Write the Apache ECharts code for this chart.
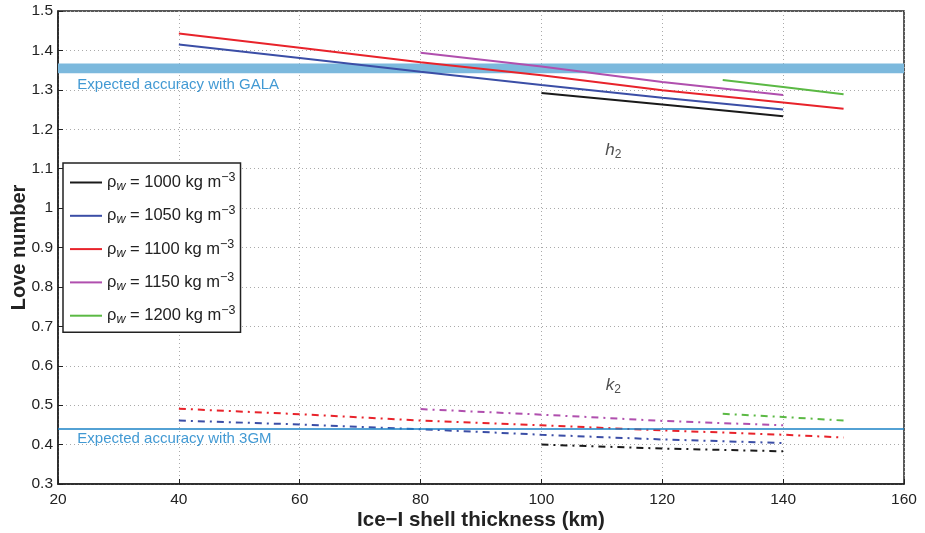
<!DOCTYPE html>
<html><head><meta charset="utf-8">
<script src="https://cdn.jsdelivr.net/npm/echarts@6/dist/echarts.min.js"></script>
<style>html,body{margin:0;padding:0;background:#fff}#c{width:925px;height:533px}</style>
</head><body><div id="c"></div>
<script>
// ---- data ----
const xTicks = [20, 40, 60, 80, 100, 120, 140, 160];
const densities = ["1000", "1050", "1100", "1150", "1200"];
const colors = ["#1a1a1a", "#3b4ea6", "#e8232b", "#b04fae", "#5bb944"];

// h2 (solid lines)
const h2_1000_x = [100, 120, 140];
const h2_1000_y = [1.292, 1.263, 1.233];
const h2_1050_x = [40, 60, 80, 100, 120, 140];
const h2_1050_y = [1.415, 1.381, 1.346, 1.312, 1.280, 1.250];
const h2_1100_x = [40, 60, 80, 100, 120, 140, 150];
const h2_1100_y = [1.443, 1.407, 1.370, 1.337, 1.299, 1.268, 1.252];
const h2_1150_x = [80, 100, 120, 140];
const h2_1150_y = [1.394, 1.359, 1.320, 1.287];
const h2_1200_x = [130, 140, 150];
const h2_1200_y = [1.325, 1.307, 1.289];

// k2 (dash-dot lines)
const k2_1000_x = [100, 120, 140];
const k2_1000_y = [0.400, 0.390, 0.383];
const k2_1050_x = [40, 60, 80, 100, 120, 140];
const k2_1050_y = [0.461, 0.451, 0.439, 0.425, 0.413, 0.404];
const k2_1100_x = [40, 60, 80, 100, 120, 140, 150];
const k2_1100_y = [0.491, 0.477, 0.461, 0.449, 0.436, 0.425, 0.418];
const k2_1150_x = [80, 100, 120, 140];
const k2_1150_y = [0.490, 0.476, 0.460, 0.449];
const k2_1200_x = [130, 140, 150];
const k2_1200_y = [0.478, 0.470, 0.461];

// accuracy references
const galaBand = [1.342, 1.367];
const gmLine = 0.4447;
const galaText = "Expected accuracy with GALA";
const gmText = "Expected accuracy with 3GM";
const galaTextPos = [23.2, 1.312];
const gmTextPos = [23.2, 0.415];
const h2LabelPos = [111.9, 1.147];
const k2LabelPos = [111.9, 0.551];

// ---- build ----
const FONT = "'Liberation Sans',Arial,sans-serif";
const h2X = [h2_1000_x, h2_1050_x, h2_1100_x, h2_1150_x, h2_1200_x];
const h2Y = [h2_1000_y, h2_1050_y, h2_1100_y, h2_1150_y, h2_1200_y];
const k2X = [k2_1000_x, k2_1050_x, k2_1100_x, k2_1150_x, k2_1200_x];
const k2Y = [k2_1000_y, k2_1050_y, k2_1100_y, k2_1150_y, k2_1200_y];
const zip = (xs, ys) => xs.map((x, i) => [x, ys[i]]);
const names = densities.map(d => "ρw = " + d + " kg m−3");

const series = [];
densities.forEach((d, i) => {
  series.push({
    name: names[i], type: "line", symbol: "none", z: 3,
    data: zip(h2X[i], h2Y[i]),
    lineStyle: { color: colors[i], width: 2 }, itemStyle: { color: colors[i] }
  });
});
densities.forEach((d, i) => {
  series.push({
    name: "k2 " + d, type: "line", symbol: "none", z: 3,
    data: zip(k2X[i], k2Y[i]),
    lineStyle: { color: colors[i], width: 2, type: [7, 5, 2, 5] }, itemStyle: { color: colors[i] }
  });
});
// GALA band + 3GM line
series.push({
  name: "ref", type: "line", data: [], symbol: "none", z: 1,
  markArea: { silent: true, itemStyle: { color: "#7cb9dd" }, data: [[{ yAxis: galaBand[0] }, { yAxis: galaBand[1] }]] },
  markLine: { silent: true, symbol: "none", label: { show: false },
    lineStyle: { color: "#1a82c6", width: 1.5, type: "solid" }, data: [{ yAxis: gmLine }] }
});
// texts
series.push({
  name: "texts", type: "scatter", symbolSize: 0, z: 5, silent: true,
  data: [
    { value: galaTextPos, label: { formatter: galaText } },
    { value: gmTextPos, label: { formatter: gmText } }
  ],
  label: { show: true, position: "right", distance: 0, color: "#1180c8", fontSize: 15, fontFamily: FONT }
});
series.push({
  name: "names", type: "scatter", symbolSize: 0, z: 5, silent: true,
  data: [
    { value: h2LabelPos, label: { formatter: "{i|h}{s|2}" } },
    { value: k2LabelPos, label: { formatter: "{i|k}{s|2}" } }
  ],
  label: { show: true, position: "inside", color: "#222",
    rich: { i: { fontStyle: "italic", fontSize: 17, fontFamily: FONT, color: "#222" },
            s: { fontSize: 12, fontFamily: FONT, color: "#222", padding: [10, 0, 0, 0] } } }
});

const chart = echarts.init(document.getElementById("c"), null, { renderer: "canvas" });
chart.setOption({
  animation: false,
  backgroundColor: "#fff",
  grid: { left: 58, right: 21, top: 11, bottom: 49, show: true, borderColor: "#222", borderWidth: 1.5,
    backgroundColor: "transparent", containLabel: false, outerBoundsMode: "none" },
  xAxis: {
    type: "value", min: xTicks[0], max: xTicks[xTicks.length - 1], interval: 20,
    name: "Ice−I shell thickness (km)", nameLocation: "middle", nameGap: 26, nameMoveOverlap: false,
    nameTextStyle: { fontSize: 20.5, fontWeight: "bold", color: "#222", fontFamily: FONT },
    axisLine: { lineStyle: { color: "#222", width: 1.5 } },
    axisTick: { inside: true, length: 5, lineStyle: { color: "#222" } },
    axisLabel: { fontSize: 15.5, color: "#222", fontFamily: FONT, margin: 8 },
    splitLine: { show: true, lineStyle: { color: "#aaa", type: [1, 3], width: 1 } }
  },
  yAxis: {
    type: "value", min: 0.3, max: 1.5, interval: 0.1,
    name: "Love number", nameLocation: "middle", nameGap: 29, nameMoveOverlap: false,
    nameTextStyle: { fontSize: 20, fontWeight: "bold", color: "#222", fontFamily: FONT },
    axisLine: { lineStyle: { color: "#222", width: 1.5 } },
    axisTick: { inside: true, length: 5, lineStyle: { color: "#222" } },
    axisLabel: { fontSize: 15.5, color: "#222", fontFamily: FONT, margin: 5,
      formatter: v => String(Math.round(v * 10) / 10) },
    splitLine: { show: true, lineStyle: { color: "#aaa", type: [1, 3], width: 1 } }
  },
  legend: {
    data: names, orient: "vertical", left: 63, top: 163,
    backgroundColor: "#fff", borderColor: "#222", borderWidth: 1.5, padding: [8, 5, 6, 6],
    itemWidth: 32, itemHeight: 14, itemGap: 11.3,
    itemStyle: { opacity: 0, borderWidth: 0 },
    lineStyle: { width: 2 },
    formatter: function (n) {
      const d = n.match(/\d{4}/)[0];
      return "{t|ρ}{w|w}{t| = " + d + " kg m}{e|−3}";
    },
    textStyle: {
      color: "#222",
      rich: {
        t: { fontSize: 16.5, fontFamily: FONT, color: "#222" },
        w: { fontSize: 12.5, fontStyle: "italic", fontFamily: FONT, color: "#222", padding: [8, 0, 0, 0] },
        e: { fontSize: 12.5, fontFamily: FONT, color: "#222", padding: [0, 0, 10, 0] }
      }
    }
  },
  series: series
});
</script></body></html>
